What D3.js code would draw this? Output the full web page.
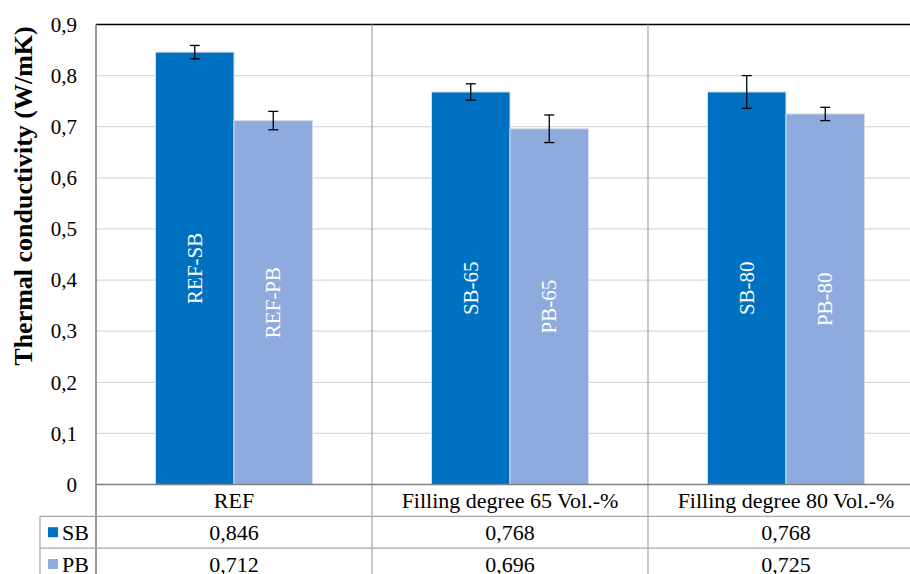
<!DOCTYPE html>
<html>
<head>
<meta charset="utf-8">
<script src="https://cdn.jsdelivr.net/npm/d3@7"></script>
<style>
  body { margin: 0; background: #fff; }
  svg { display: block; font-family: "Liberation Serif", "Times New Roman", serif; }
</style>
</head>
<body>
<div id="chart"></div>
<script>
// chart data
var categories = ["REF", "Filling degree 65 Vol.-%", "Filling degree 80 Vol.-%"];
var seriesNames = ["SB", "PB"];
var sbValues = [0.846, 0.768, 0.768];
var pbValues = [0.712, 0.696, 0.725];
var sbErrors = [0.013, 0.016, 0.032];
var pbErrors = [0.018, 0.027, 0.013];
var sbLabels = ["REF-SB", "SB-65", "SB-80"];
var pbLabels = ["REF-PB", "PB-65", "PB-80"];
var yTicks = [0, 0.1, 0.2, 0.3, 0.4, 0.5, 0.6, 0.7, 0.8, 0.9];
var colors = {SB: "#0070C0", PB: "#8FAADC"};

var svgWidth = 910;
var svgHeight = 574;

// plot area (the original runs slightly past the right edge)
var plot = {left: 96, right: 924, top: 24.5, bottom: 484.5};
var rowH = 31.8;

var svg = d3.select("#chart")
    .append("svg")
    .attr("width", svgWidth)
    .attr("height", svgHeight);

var x0 = d3.scaleBand()
    .domain(categories)
    .range([plot.left, plot.right])
    .paddingInner(0)
    .paddingOuter(0);

var x1 = d3.scaleBand()
    .domain(seriesNames)
    .range([0, x0.bandwidth()])
    .paddingInner(0)
    .paddingOuter(0.758);

var y = d3.scaleLinear()
    .domain([0, 0.9])
    .range([plot.bottom, plot.top]);

var comma = function(v, f) { return d3.format(f)(v).replace(".", ","); };

// gridlines
svg.append("g")
    .selectAll("line")
    .data(yTicks.filter(d => d > 0 && d < 0.9))
    .enter()
    .append("line")
    .attr("x1", plot.left)
    .attr("x2", plot.right)
    .attr("y1", d => y(d))
    .attr("y2", d => y(d))
    .attr("stroke", "#d9d9d9")
    .attr("stroke-width", 1.3);

// y axis tick labels
var leftAxis = d3.axisLeft(y)
    .tickValues(yTicks)
    .tickSize(0)
    .tickPadding(19)
    .tickFormat(d => d === 0 ? "0" : comma(d, ".1f"));

var axisG = svg.append("g")
    .attr("transform", `translate(${plot.left}, 0)`)
    .call(leftAxis);
axisG.select(".domain").remove();
axisG.selectAll("text")
    .attr("font-size", 21)
    .attr("font-family", "Liberation Serif")
    .attr("fill", "#000");

// rows of data table
var tableRows = [
    {name: "SB", values: sbValues},
    {name: "PB", values: pbValues}
];

var seriesData = categories.map(function(c, i) {
    return [
        {cat: c, s: "SB", v: sbValues[i], e: sbErrors[i], label: sbLabels[i]},
        {cat: c, s: "PB", v: pbValues[i], e: pbErrors[i], label: pbLabels[i]}
    ];
});
var flat = [].concat.apply([], seriesData);

// bars
svg.append("g")
    .selectAll("rect")
    .data(flat)
    .enter()
    .append("rect")
    .attr("x", d => x0(d.cat) + x1(d.s))
    .attr("y", d => y(d.v))
    .attr("width", x1.bandwidth())
    .attr("height", d => y(0) - y(d.v))
    .attr("fill", d => colors[d.s])
    .attr("stroke", "#d6dce6")
    .attr("stroke-width", 1);

// labels inside bars
svg.append("g")
    .selectAll("text")
    .data(flat)
    .enter()
    .append("text")
    .attr("transform", d => `translate(${x0(d.cat) + x1(d.s) + x1.bandwidth() / 2 + 7}, ${(y(d.v) + y(0)) / 2}) rotate(-90)`)
    .attr("text-anchor", "middle")
    .attr("font-size", 21)
    .attr("fill", "#fff")
    .text(d => d.label);

// error bars
var errG = svg.append("g")
    .selectAll("g")
    .data(flat)
    .enter()
    .append("g")
    .attr("stroke", "#000")
    .attr("stroke-width", 1.3);

errG.append("line")
    .attr("x1", d => x0(d.cat) + x1(d.s) + x1.bandwidth() / 2)
    .attr("x2", d => x0(d.cat) + x1(d.s) + x1.bandwidth() / 2)
    .attr("y1", d => y(d.v + d.e))
    .attr("y2", d => y(d.v - d.e));

[1, -1].forEach(function(sign) {
    errG.append("line")
        .attr("x1", d => x0(d.cat) + x1(d.s) + x1.bandwidth() / 2 - 5)
        .attr("x2", d => x0(d.cat) + x1(d.s) + x1.bandwidth() / 2 + 5)
        .attr("y1", d => y(d.v + sign * d.e))
        .attr("y2", d => y(d.v + sign * d.e));
});

// top border
svg.append("line")
    .attr("x1", plot.left)
    .attr("x2", plot.right)
    .attr("y1", plot.top)
    .attr("y2", plot.top)
    .attr("stroke", "#000")
    .attr("stroke-width", 1.6);

// table lines
var tableBottom = plot.bottom + rowH * 3 + 5;
var lineColor = "#a6a6a6";

// vertical lines: left axis and category separators
svg.append("g")
    .selectAll("line")
    .data(categories)
    .enter()
    .append("line")
    .attr("x1", d => x0(d))
    .attr("x2", d => x0(d))
    .attr("y1", plot.top)
    .attr("y2", tableBottom)
    .attr("stroke", (d, i) => i === 0 ? "#808080" : lineColor)
    .attr("stroke-width", (d, i) => i === 0 ? 1.6 : 1.2);

// legend column left edge
svg.append("line")
    .attr("x1", 40)
    .attr("x2", 40)
    .attr("y1", plot.bottom + rowH)
    .attr("y2", tableBottom)
    .attr("stroke", lineColor)
    .attr("stroke-width", 1.2);

// zero line
svg.append("line")
    .attr("x1", plot.left)
    .attr("x2", plot.right)
    .attr("y1", y(0))
    .attr("y2", y(0))
    .attr("stroke", "#808080")
    .attr("stroke-width", 1.6);

// horizontal row lines
[1, 2].forEach(function(r) {
    svg.append("line")
        .attr("x1", 40)
        .attr("x2", plot.right)
        .attr("y1", plot.bottom + rowH * r)
        .attr("y2", plot.bottom + rowH * r)
        .attr("stroke", lineColor)
        .attr("stroke-width", 1.2);
});

// category header row
svg.append("g")
    .selectAll("text")
    .data(categories)
    .enter()
    .append("text")
    .attr("x", d => x0(d) + x0.bandwidth() / 2)
    .attr("y", plot.bottom + rowH / 2)
    .attr("dy", "0.35em")
    .attr("text-anchor", "middle")
    .attr("font-size", 22)
    .text(d => d);

// value rows
tableRows.forEach(function(row, r) {
    var cy = plot.bottom + rowH * (r + 1) + rowH / 2;
    svg.append("rect")
        .attr("x", 48)
        .attr("y", cy - 5)
        .attr("width", 10)
        .attr("height", 10)
        .attr("fill", colors[row.name]);
    svg.append("text")
        .attr("x", 62)
        .attr("y", cy)
        .attr("dy", "0.35em")
        .attr("font-size", 22)
        .text(row.name);
    svg.append("g")
        .selectAll("text")
        .data(row.values)
        .enter()
        .append("text")
        .attr("x", (d, i) => x0(categories[i]) + x0.bandwidth() / 2)
        .attr("y", cy)
        .attr("dy", "0.35em")
        .attr("text-anchor", "middle")
        .attr("font-size", 22)
        .text(d => comma(d, ".3f"));
});

// y axis title
svg.append("text")
    .attr("transform", "translate(32, 196) rotate(-90)")
    .attr("text-anchor", "middle")
    .attr("font-size", 26)
    .attr("font-weight", "bold")
    .text("Thermal conductivity (W/mK)");
</script>
</body>
</html>
